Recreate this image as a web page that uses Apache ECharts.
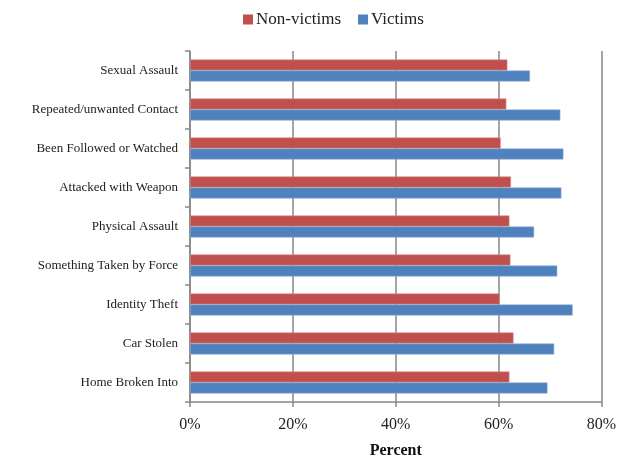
<!DOCTYPE html>
<html>
<head>
<meta charset="utf-8">
<script src="https://cdn.jsdelivr.net/npm/echarts@6/dist/echarts.min.js"></script>
<style>html,body{margin:0;padding:0;background:#fff}#c{width:626px;height:457px}</style>
</head>
<body>
<div id="c"></div>
<script>
var categories = ["Sexual Assault","Repeated/unwanted Contact","Been Followed or Watched","Attacked with Weapon","Physical Assault","Something Taken by Force","Identity Theft","Car Stolen","Home Broken Into"];
var nonVictims = [61.7, 61.5, 60.4, 62.4, 62.1, 62.3, 60.2, 62.9, 62.1];
var victims = [66.1, 72.0, 72.6, 72.2, 66.9, 71.4, 74.4, 70.8, 69.5];
var xTicks = [0, 20, 40, 60, 80];

var font = "'Liberation Serif', 'Times New Roman', serif";
var chart = echarts.init(document.getElementById('c'), null, {renderer: 'canvas'});
chart.setOption({
  animation: false,
  textStyle: {fontFamily: font},
  legend: {
    top: 6, left: 238,
    itemWidth: 10, itemHeight: 10, itemGap: 17,
    icon: 'rect',
    itemStyle: {borderWidth: 0},
    textStyle: {fontFamily: font, fontSize: 17, color: '#222', padding: [0,0,0,-2]},
    data: ['Non-victims', 'Victims']
  },
  grid: {left: 190, right: 24.5, top: 51, bottom: 55, containLabel: false, outerBoundsMode: 'none'},
  xAxis: {
    type: 'value', min: xTicks[0], max: xTicks[xTicks.length-1], interval: 20,
    name: 'Percent', nameLocation: 'middle', nameGap: 41,
    nameTextStyle: {fontFamily: font, fontSize: 16, fontWeight: 'bold', color: '#111'},
    axisLine: {show: true, lineStyle: {color: '#878787', width: 1.5}},
    axisTick: {show: true, length: 5, lineStyle: {color: '#878787', width: 1.5}},
    axisLabel: {formatter: '{value}%', fontFamily: font, fontSize: 16, color: '#222', margin: 15},
    splitLine: {show: true, lineStyle: {color: '#878787', width: 1.5}}
  },
  yAxis: {
    type: 'category', data: categories, inverse: true,
    axisLine: {show: true, lineStyle: {color: '#878787', width: 1.5}},
    axisTick: {show: true, length: 5, lineStyle: {color: '#878787', width: 1.5}},
    axisLabel: {fontFamily: font, fontSize: 13, color: '#222', margin: 12}
  },
  series: [
    {name: 'Non-victims', type: 'bar', data: nonVictims, barWidth: 11, barGap: '0%',
     itemStyle: {color: '#C0504D', borderColor: '#D58D8B', borderWidth: 0.6}},
    {name: 'Victims', type: 'bar', data: victims, barWidth: 11,
     itemStyle: {color: '#4F81BD', borderColor: '#8DAED6', borderWidth: 0.6}}
  ]
});
</script>
</body>
</html>
